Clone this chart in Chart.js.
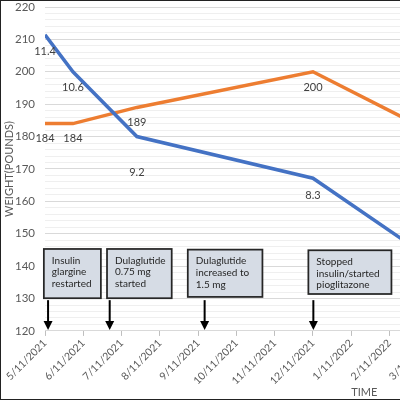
<!DOCTYPE html>
<html>
<head>
<meta charset="utf-8">
<script src="https://cdn.jsdelivr.net/npm/chart.js@4/dist/chart.umd.min.js"></script>
<style>
  html, body { margin: 0; padding: 0; background: #fff; }
  #wrap { position: relative; width: 400px; height: 400px; overflow: hidden; }
  #wrap canvas { position: absolute; left: 0; top: 0; }
  #frame { position: absolute; left: 0; top: 0; width: 400px; height: 400px; box-sizing: border-box;
           border: 1px solid #222; border-right: none; pointer-events: none; }
</style>
</head>
<body>
<div id="wrap">
  <canvas id="chart" width="476" height="400"></canvas>
  <div id="frame"></div>
</div>
<script>
// ---------------------------------------------------------------------------
// data (x = months after 5/11/2021)
// ---------------------------------------------------------------------------
const monthLabels = ['5/11/2021', '6/11/2021', '7/11/2021', '8/11/2021', '9/11/2021', '10/11/2021',
                     '11/11/2021', '12/11/2021', '1/11/2022', '2/11/2022', '3/11/2022', '4/11/2022'];
const visitMonths = [0, 0.73, 2.4, 7.0, 10];
const weightLbs   = [184, 184, 189, 200, 182];
const a1cPct      = [11.4, 10.6, 9.2, 8.3, 6.6];

const eventMonths = [0.08, 1.69, 4.17, 7.01];
const eventNotes  = [
  ['Insulin', 'glargine', 'restarted'],
  ['Dulaglutide', '0.75 mg', 'started'],
  ['Dulaglutide', 'increased to', '1.5 mg'],
  ['Stopped', 'insulin/started', 'pioglitazone']
];

const FONT = 'Lato';
const TEXT = '#595959';

// ---------------------------------------------------------------------------
// labels, notes, arrows, axis titles
// ---------------------------------------------------------------------------
const notesPlugin = {
  id: 'notes',
  afterDatasetsDraw(chart, args, opts) {
    const { ctx, scales: { x, y } } = chart;
    ctx.save();

    // value labels under the points
    ctx.font = '11px ' + FONT;
    ctx.fillStyle = '#404040';
    ctx.textAlign = 'center';
    ctx.textBaseline = 'middle';
    chart.data.datasets.forEach((ds, di) => {
      const meta = chart.getDatasetMeta(di);
      meta.data.forEach((pt, i) => {
        const dy = (opts.labelDy[di] && opts.labelDy[di][i]) || 16;
        const txt = di === 0 ? a1cPct[i].toFixed(1) : String(weightLbs[i]);
        ctx.fillText(txt, pt.x, pt.y + dy);
      });
    });

    // event boxes
    eventNotes.forEach((lines, i) => {
      const b = opts.boxes[i];
      const l = x.getPixelForValue(b.from), r = x.getPixelForValue(b.to);
      const t = y.getPixelForValue(b.top), btm = y.getPixelForValue(b.bottom);
      ctx.fillStyle = '#d6dce5';
      ctx.fillRect(l, t, r - l, btm - t);
      ctx.lineWidth = 1.75;
      ctx.strokeStyle = '#262626';
      ctx.strokeRect(l, t, r - l, btm - t);
      ctx.fillStyle = '#262626';
      ctx.font = '10px ' + FONT;
      ctx.textAlign = 'left';
      lines.forEach((s, k) => ctx.fillText(s, l + 8, t + 11.5 + k * 11.7));
    });

    // arrows
    ctx.strokeStyle = '#000';
    ctx.fillStyle = '#000';
    ctx.lineWidth = 2;
    eventMonths.forEach(m => {
      const px = x.getPixelForValue(m);
      const y0 = y.getPixelForValue(129.5), y1 = y.getPixelForValue(120.3);
      ctx.beginPath();
      ctx.moveTo(px, y0);
      ctx.lineTo(px, y1 - 7);
      ctx.stroke();
      ctx.beginPath();
      ctx.moveTo(px - 4.5, y1 - 9);
      ctx.lineTo(px + 4.5, y1 - 9);
      ctx.lineTo(px, y1);
      ctx.closePath();
      ctx.fill();
    });

    // axis titles
    ctx.fillStyle = TEXT;
    ctx.font = '11px ' + FONT;
    ctx.textAlign = 'center';
    ctx.fillText('TIME', x.getPixelForValue(8.34), 392);
    ctx.translate(9, y.getPixelForValue(170));
    ctx.rotate(-Math.PI / 2);
    ctx.fillText('WEIGHT(POUNDS)', 0, 0);
    ctx.restore();
  }
};

new Chart(document.getElementById('chart'), {
  type: 'line',
  data: {
    datasets: [
      {
        label: 'HbA1c',
        data: visitMonths.map((m, i) => ({ x: m, y: a1cPct[i] })),
        yAxisID: 'a1c',
        borderColor: '#4472C4',
        borderWidth: 3.5,
        pointRadius: 0,
        tension: 0
      },
      {
        label: 'Weight',
        data: visitMonths.map((m, i) => ({ x: m, y: weightLbs[i] })),
        yAxisID: 'y',
        borderColor: '#ED7D31',
        borderWidth: 3.5,
        pointRadius: 0,
        tension: 0
      }
    ]
  },
  options: {
    responsive: false,
    animation: false,
    layout: { padding: { top: 0, right: 0, bottom: 12, left: 0 } },
    plugins: {
      legend: { display: false },
      tooltip: { enabled: false },
      notes: {
        labelDy: [[17, 16, 36, 17, 16], [15, 15, 15, 16, 16]],
        boxes: [
          { from: -0.03, to: 1.46, top: 145.3, bottom: 130.1 },
          { from: 1.62, to: 3.31, top: 145.3, bottom: 130.1 },
          { from: 3.73, to: 5.68, top: 145.1, bottom: 130.5 },
          { from: 6.88, to: 9.05, top: 144.9, bottom: 131.4 }
        ]
      }
    },
    scales: {
      x: {
        type: 'linear',
        min: 0,
        max: 11,
        ticks: {
          stepSize: 1,
          autoSkip: false,
          minRotation: 45,
          maxRotation: 45,
          padding: 1,
          color: TEXT,
          font: { family: FONT, size: 10.5 },
          callback: v => monthLabels[v] ?? ''
        },
        grid: { drawOnChartArea: false, drawTicks: true, tickLength: 5, tickColor: '#bfbfbf' },
        border: { color: '#d9d9d9' }
      },
      y: {
        min: 120,
        max: 220,
        ticks: {
          stepSize: 2,
          autoSkip: false,
          padding: 10,
          color: TEXT,
          font: { family: FONT, size: 11.5 },
          callback: v => (v % 10 === 0 ? v : '')
        },
        grid: {
          drawTicks: false,
          color: c => (c.tick.value % 10 === 0 ? '#d9d9d9' : '#efefef')
        },
        border: { display: false },
        afterFit: s => { s.width = 45; s.paddingTop = 7; }
      },
      a1c: { display: false, position: 'right', min: 5, max: 12 }
    }
  },
  plugins: [notesPlugin]
});
</script>
</body>
</html>
